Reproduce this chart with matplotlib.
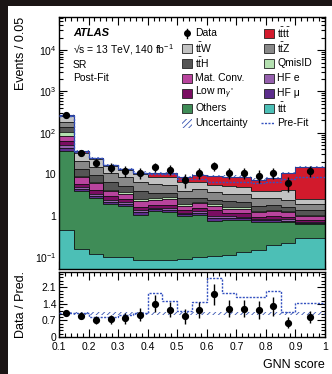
import numpy as np
import matplotlib
matplotlib.use("Agg")
import matplotlib.pyplot as plt
from matplotlib.patches import Rectangle
from matplotlib.ticker import MultipleLocator, FixedLocator, FixedFormatter, LogLocator, NullFormatter

plt.rcParams['font.family'] = ['Liberation Sans', 'DejaVu Sans']
plt.rcParams['mathtext.fontset'] = 'custom'
plt.rcParams['mathtext.rm'] = 'Liberation Sans'
plt.rcParams['mathtext.it'] = 'Liberation Sans:italic'
plt.rcParams['mathtext.bf'] = 'Liberation Sans:bold'
plt.rcParams['hatch.linewidth'] = 0.6

# ---------------- data ----------------
edges = [0.1, 0.15, 0.2, 0.25, 0.3, 0.35, 0.4, 0.45, 0.5, 0.55, 0.6,
         0.65, 0.7, 0.75, 0.8, 0.85, 0.9, 1.0]
data = [265, 33, 19, 14.5, 12, 11, 15, 13, 7.4, 11, 16, 11, 11, 9.3, 11, 6.3, 12]

ttt      = [0.45, 0.16, 0.12, 0.10, 0.10, 0.085, 0.085, 0.085, 0.09, 0.10, 0.105, 0.11, 0.13, 0.15, 0.2, 0.22, 0.28]
others   = [36.5, 3.7, 2.55, 1.82, 1.64, 0.955, 1.235, 1.115, 0.91, 0.94, 0.655, 0.69, 0.67, 0.57, 0.52, 0.48, 0.35]
hfmu     = [6, 0.5, 0.35, 0.25, 0.2, 0.15, 0.12, 0.15, 0.08, 0.1, 0.1, 0.08, 0.07, 0.05, 0.06, 0.05, 0.04]
hfe      = [7, 0.55, 0.4, 0.25, 0.2, 0.16, 0.13, 0.17, 0.1, 0.12, 0.12, 0.08, 0.08, 0.06, 0.07, 0.06, 0.04]
lowm     = [12, 1.0, 0.8, 0.5, 0.4, 0.3, 0.25, 0.3, 0.2, 0.3, 0.35, 0.17, 0.18, 0.12, 0.15, 0.12, 0.08]
matconv  = [24, 2.5, 1.8, 1.0, 0.85, 0.65, 0.58, 0.75, 0.37, 0.45, 0.42, 0.35, 0.35, 0.25, 0.3, 0.27, 0.18]
qmisid   = [17, 0.8, 0.5, 0.35, 0.3, 0.2, 0.2, 0.22, 0.15, 0.18, 0.15, 0.12, 0.12, 0.1, 0.1, 0.1, 0.08]
tth      = [37, 4.5, 3.0, 2.2, 1.5, 1.4, 0.9, 0.7, 0.7, 0.55, 0.55, 0.6, 0.5, 0.45, 0.4, 0.35, 0.3]
ttz      = [40, 7.3, 5.5, 4.0, 3.3, 2.5, 2.3, 2.1, 1.4, 1.6, 1.2, 1.2, 1.2, 0.9, 0.9, 0.8, 0.55]
ttw      = [75, 12.5, 8.5, 5.5, 4.0, 3.5, 2.6, 3.1, 2.4, 2.3, 1.7, 1.8, 1.7, 1.3, 1.3, 1.8, 0.65]
tttt     = [10, 2.5, 1.5, 1.0, 1.0, 1.0, 2.4, 1.9, 2.0, 2.8, 3.7, 3.6, 3.8, 3.5, 4.2, 6.5, 12.6]

prefit   = [262, 35, 25, 17, 13.5, 11, 10.2, 10, 7.5, 7.6, 6.5, 6.5, 6.5, 6.2, 6.5, 7.8, 8.8]
ratio    = [1.0, 0.9, 0.72, 0.75, 0.8, 0.95, 1.4, 1.15, 0.88, 1.15, 1.8, 1.2, 1.2, 1.15, 1.3, 0.6, 0.85]
ratio_prefit = [1.02, 1.0, 0.83, 0.85, 0.95, 1.0, 1.85, 1.52, 1.1, 1.5, 2.5, 1.85, 1.69, 1.69, 1.95, 1.04, 1.45]
unc_frac = 0.07

L_TTT = r"$\mathrm{t\bar{t}t}$"
L_TTTT = r"$\mathrm{t\bar{t}t\bar{t}}$"
L_TTH = r"$\mathrm{t\bar{t}H}$"
L_TTZ = r"$\mathrm{t\bar{t}Z}$"
L_TTW = r"$\mathrm{t\bar{t}W}$"
L_LOWM = r"Low m$_{\gamma^*}$"

components = [
    (L_TTT, ttt, "#4cbfb6"),
    ("Others", others, "#3f8c57"),
    ("HF \u03bc", hfmu, "#5c2d8c"),
    ("HF e", hfe, "#9560ad"),
    (L_LOWM, lowm, "#7a0d62"),
    ("Mat. Conv.", matconv, "#b8449d"),
    ("QmisID", qmisid, "#b4e0b0"),
    (L_TTH, tth, "#555555"),
    (L_TTZ, ttz, "#888888"),
    (L_TTW, ttw, "#c2c2c2"),
    (L_TTTT, tttt, "#d21a2c"),
]

edges_a = np.array(edges)
centers = 0.5 * (edges_a[:-1] + edges_a[1:])
data_a = np.array(data, float)

# ---------------- figure ----------------
W, H = 332, 374
fig = plt.figure(figsize=(W / 100, H / 100), dpi=100)
fig.patch.set_facecolor("white")
fig.patches.append(Rectangle((0, 1 - 6 / H), 1, 6 / H, transform=fig.transFigure,
                             facecolor="#1b1515", edgecolor="none", zorder=-5))
fig.patches.append(Rectangle((0, 0), 8 / W, 1, transform=fig.transFigure,
                             facecolor="#1b1515", edgecolor="none", zorder=-5))

L, R = 59, 325
ax = fig.add_axes([L / W, 1 - 269 / H, (R - L) / W, (269 - 17) / H])
rax = fig.add_axes([L / W, 1 - 337 / H, (R - L) / W, (337 - 272) / H])

base = np.full(len(centers), 1e-4)
for name, vals, col in components:
    top = base + np.array(vals, float)
    ax.stairs(top, edges_a, baseline=base, fill=True, facecolor=col,
              edgecolor="none", zorder=2)
    ax.stairs(top, edges_a, baseline=None, color="#111111", lw=0.6, zorder=2.5)
    base = top
total = base

ax.stairs(total * (1 + unc_frac), edges_a, baseline=total * (1 - unc_frac), fill=True,
          facecolor="none", edgecolor="#3552b0", hatch="//////", lw=0, zorder=3)
ax.stairs(total, edges_a, baseline=None, color="#2a3f9a", lw=0.8, zorder=3)
ax.stairs(np.array(prefit), edges_a, baseline=None, color="#3552c0", lw=1.0,
          ls=(0, (1.5, 1.0)), zorder=3.5)

ax.errorbar(centers, data_a, yerr=np.sqrt(data_a), fmt="o", color="black",
            ms=4.2, lw=1.0, capsize=0, zorder=5)

ax.set_yscale("log")
ax.set_xlim(0.1, 1.0)
ax.set_ylim(10 ** -1.29, 10 ** 4.8)
ax.yaxis.set_major_locator(FixedLocator([0.1, 1, 10, 100, 1000, 10000]))
ax.yaxis.set_major_formatter(FixedFormatter(["$10^{-1}$", "1", "10", "$10^{2}$", "$10^{3}$", "$10^{4}$"]))
ax.yaxis.set_minor_locator(LogLocator(base=10, subs=np.arange(2, 10), numticks=20))
ax.yaxis.set_minor_formatter(NullFormatter())
ax.xaxis.set_major_locator(MultipleLocator(0.1))
ax.xaxis.set_minor_locator(MultipleLocator(0.02))
ax.tick_params(axis="x", labelbottom=False)
for a in (ax, rax):
    a.tick_params(which="both", direction="in", top=True, right=True, labelsize=7.5,
                  width=0.8, pad=2)
    a.tick_params(which="major", length=6)
    a.tick_params(which="minor", length=3)
    for s in a.spines.values():
        s.set_linewidth(1.0)
rax.tick_params(axis="x", pad=3.5)

ax.set_ylabel("Events / 0.05", fontsize=9, loc="top")
ax.yaxis.set_label_coords(-0.12, 1.0)

tr = ax.transAxes
def ay(py):
    return 1 - (py - 17) / (269 - 17)
def axx(px):
    return (px - L) / (R - L)
ax.text(axx(73), ay(33), "ATLAS", fontsize=8, fontweight="bold", fontstyle="italic",
        va="center", transform=tr)
ax.text(axx(73), ay(50), "\u221as = 13 TeV, 140 fb$^{-1}$", fontsize=7.5, va="center", transform=tr)
ax.text(axx(73), ay(65), "SR", fontsize=7.5, va="center", transform=tr)
ax.text(axx(73), ay(78), "Post-Fit", fontsize=7.5, va="center", transform=tr)

cols = {c[0]: c[2] for c in components}
leg1 = ["Data", L_TTW, L_TTH, "Mat. Conv.", L_LOWM, "Others", "Uncertainty"]
leg2 = [L_TTTT, L_TTZ, "QmisID", "HF e", "HF \u03bc", L_TTT, "Pre-Fit"]
rows = [33, 48, 63, 78, 93, 108, 123]
bw, bh = 10 / (R - L), 9 / 252
for colx, labels in ((182, leg1), (264, leg2)):
    for lab, py in zip(labels, rows):
        x0 = axx(colx)
        yc = ay(py)
        if lab == "Data":
            ax.plot([x0 + bw / 2], [yc], "o", color="black", ms=4, transform=tr, clip_on=False)
            ax.plot([x0 + bw / 2, x0 + bw / 2], [yc - bh / 2, yc + bh / 2], color="black",
                    lw=1, transform=tr)
        elif lab == "Uncertainty":
            ax.add_patch(Rectangle((x0, yc - bh / 2), bw, bh, transform=tr, facecolor="none",
                                   edgecolor="#3552b0", hatch="//////", lw=0))
        elif lab == "Pre-Fit":
            ax.plot([x0 - 0.01, x0 + bw], [yc, yc], color="#3552c0", lw=1.0,
                    ls=(0, (1.5, 1.0)), transform=tr)
        else:
            ax.add_patch(Rectangle((x0, yc - bh / 2), bw, bh, transform=tr,
                                   facecolor=cols[lab], edgecolor="#222222", lw=0.6))
        ax.text(x0 + bw + 0.012, yc, lab, fontsize=7.5, va="center", ha="left", transform=tr)

rax.stairs(np.full(len(centers), 1 + unc_frac), edges_a,
           baseline=np.full(len(centers), 1 - unc_frac), fill=True, facecolor="none",
           edgecolor="#3552b0", hatch="//////", lw=0, zorder=2)
rax.stairs(np.array(ratio_prefit), edges_a, baseline=None, color="#3552c0", lw=1.0,
           ls=(0, (1.5, 1.0)), zorder=3)
ratio_a = np.array(ratio)
rerr = ratio_a / np.sqrt(data_a)
rax.errorbar(centers, ratio_a, yerr=rerr, fmt="o", color="black", ms=4.2, lw=1.0,
             capsize=0, zorder=5)
rax.set_xlim(0.1, 1.0)
rax.set_ylim(0, 2.75)
rax.yaxis.set_major_locator(FixedLocator([0, 0.7, 1.4, 2.1]))
rax.yaxis.set_major_formatter(FixedFormatter(["0", "0.7", "1.4", "2.1"]))
rax.yaxis.set_minor_locator(MultipleLocator(0.14))
rax.xaxis.set_major_locator(FixedLocator([0.1, 0.2, 0.3, 0.4, 0.5, 0.6, 0.7, 0.8, 0.9, 1.0]))
rax.xaxis.set_major_formatter(FixedFormatter(["0.1", "0.2", "0.3", "0.4", "0.5", "0.6",
                                              "0.7", "0.8", "0.9", "1"]))
rax.xaxis.set_minor_locator(MultipleLocator(0.02))
rax.set_ylabel("Data / Pred.", fontsize=9)
rax.yaxis.set_label_coords(-0.12, 0.5)
rax.set_xlabel("GNN score", fontsize=9, loc="right", labelpad=5)

fig.savefig("out.png", dpi=100)
